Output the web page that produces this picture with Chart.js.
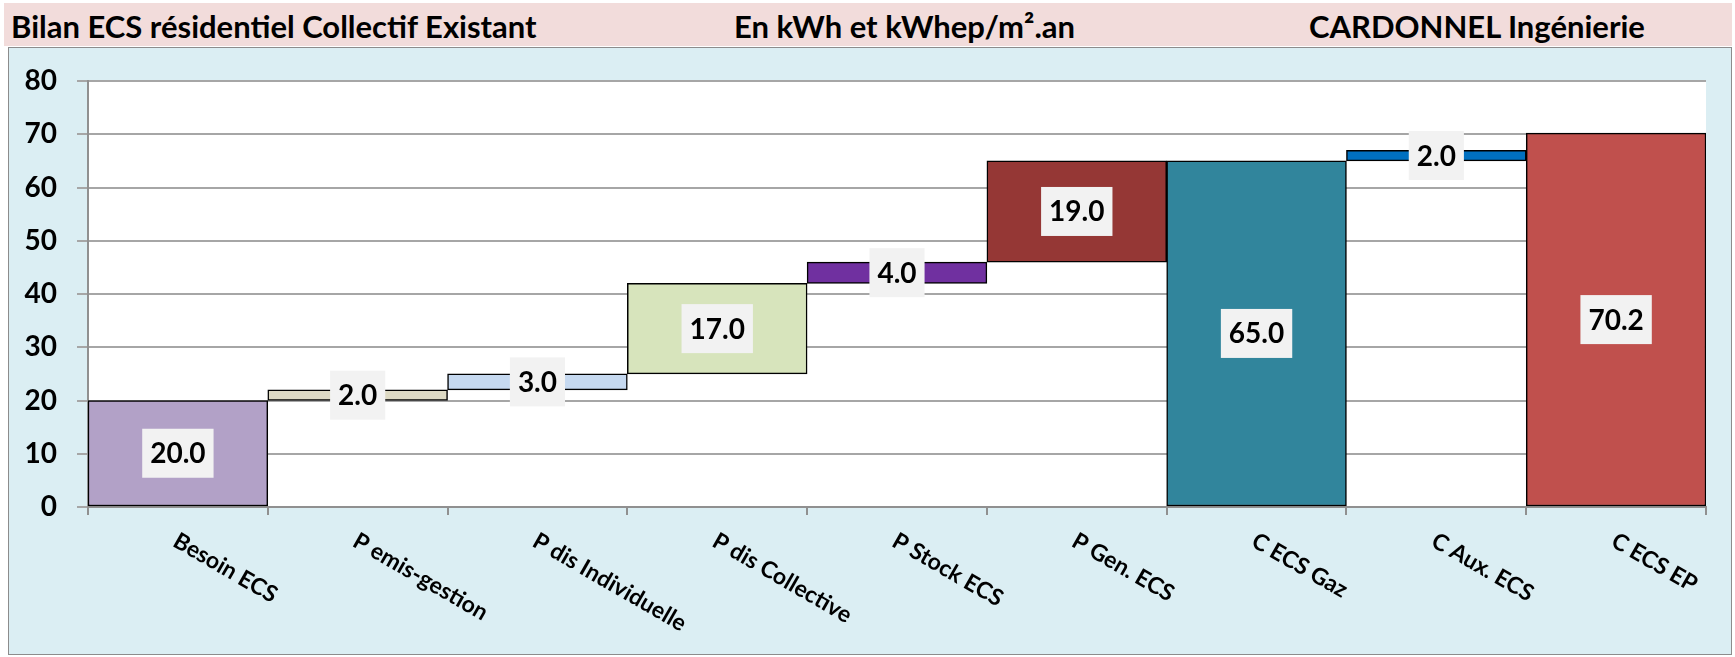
<!DOCTYPE html>
<html>
<head>
<meta charset="utf-8">
<script src="https://cdn.jsdelivr.net/npm/chart.js@4"></script>
<style>
  body { margin: 0; width: 1735px; height: 657px; background: #fff; font-family: Lato, sans-serif; overflow: hidden; }
  #head { position: absolute; left: 4px; top: 3px; width: 1728px; height: 43px; background: #F2DCDB; }
  #head span { position: absolute; top: 4px; font-weight: bold; font-size: 31px; color: #000; white-space: nowrap; }
  #box { position: absolute; left: 8px; top: 47px; width: 1722px; height: 606px; background: #DBEEF3; border: 1px solid #8c8c8c; }
</style>
</head>
<body>
<div id="head">
  <span style="left:7px">Bilan ECS résidentiel Collectif Existant</span>
  <span style="left:730px">En kWh et kWhep/m².an</span>
  <span style="left:1305px">CARDONNEL Ingénierie</span>
</div>
<div id="box"><canvas id="chart" width="1722" height="606"></canvas></div>
<script>
const categories = ['Besoin ECS', 'P emis-gestion', 'P dis Individuelle', 'P dis Collective', 'P Stock ECS', 'P Gen. ECS', 'C ECS Gaz', 'C Aux. ECS', 'C ECS EP'];
// bottom of each floating bar and its height
const bases = [0, 20, 22, 25, 42, 46, 0, 65, 0];
const amounts = [20, 2, 3, 17, 4, 19, 65, 2, 70.2];
const barColors = ['#B2A1C7', '#DDD9C3', '#C6D9F0', '#D7E4BC', '#7030A0', '#953735', '#31859C', '#0070C0', '#C0504D'];

const ranges = categories.map((c, i) => [bases[i], bases[i] + amounts[i]]);

// white plot area
const plotBg = {
  id: 'plotBg',
  beforeDraw(chart) {
    const a = chart.chartArea, ctx = chart.ctx;
    ctx.save();
    ctx.fillStyle = '#fff';
    ctx.fillRect(a.left, a.top, a.right - a.left, a.bottom - a.top);
    ctx.restore();
  }
};

// value boxes in the middle of each bar
const valueBoxes = {
  id: 'valueBoxes',
  afterDatasetsDraw(chart) {
    const ctx = chart.ctx;
    const meta = chart.getDatasetMeta(0);
    ctx.save();
    ctx.font = 'bold 28px Lato';
    ctx.textAlign = 'center';
    ctx.textBaseline = 'middle';
    meta.data.forEach((bar, i) => {
      const txt = amounts[i].toFixed(1);
      const w = ctx.measureText(txt).width + 16;
      const h = 49;
      const cy = (bar.y + bar.base) / 2;
      ctx.fillStyle = '#F2F2F2';
      ctx.fillRect(bar.x - w / 2, cy - h / 2, w, h);
      ctx.fillStyle = '#000';
      ctx.fillText(txt, bar.x, cy + 1);
    });
    ctx.restore();
  }
};

// slanted category labels, reading downwards from the tick
const slantLabels = {
  id: 'slantLabels',
  afterDraw(chart) {
    const ctx = chart.ctx, xs = chart.scales.x;
    ctx.save();
    ctx.font = 'bold 23px Lato';
    ctx.fillStyle = '#000';
    ctx.textAlign = 'left';
    ctx.textBaseline = 'top';
    categories.forEach((c, i) => {
      ctx.save();
      ctx.translate(xs.getPixelForTick(i) + 3, xs.top + 22);
      ctx.rotate(30 * Math.PI / 180);
      ctx.fillText(c, 0, 0);
      ctx.restore();
    });
    ctx.restore();
  }
};

new Chart(document.getElementById('chart'), {
  type: 'bar',
  data: {
    labels: categories,
    datasets: [{
      data: ranges,
      backgroundColor: barColors,
      borderColor: '#000',
      borderWidth: 1.5,
      borderSkipped: false,
      barPercentage: 1,
      categoryPercentage: 1
    }]
  },
  plugins: [plotBg, valueBoxes, slantLabels],
  options: {
    responsive: false,
    animation: false,
    layout: { padding: { top: 33, right: 25, left: 0, bottom: 0 } },
    plugins: { legend: { display: false }, tooltip: { enabled: false } },
    scales: {
      x: {
        grid: { drawOnChartArea: false, color: '#909090', lineWidth: 2, tickLength: 8, offset: true },
        border: { color: '#909090', width: 2 },
        ticks: { display: false },
        afterFit(s) { s.height = 147; }
      },
      y: {
        min: 0, max: 80,
        ticks: { stepSize: 10, color: '#000', font: { family: 'Lato', size: 28, weight: 'bold', lineHeight: 0.85 }, padding: 20 },
        grid: { color: '#A6A6A6', lineWidth: 2, tickLength: 11 },
        border: { color: '#909090', width: 2 },
        afterFit(s) { s.width = 79; }
      }
    }
  }
});
</script>
</body>
</html>
